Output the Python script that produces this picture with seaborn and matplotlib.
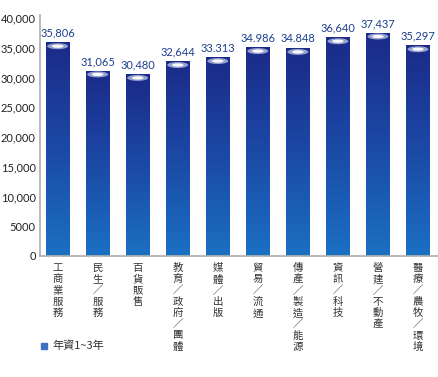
import numpy as np
import pandas as pd
import seaborn as sns
import matplotlib.pyplot as plt
from matplotlib.colors import LinearSegmentedColormap
from matplotlib.patches import Ellipse

# Dados do gráfico
categorias = ["工商業服務", "民生／服務", "百貨販售", "教育／政府／團體", "媒體／出版",
              "貿易／流通", "傳產／製造／能源", "資訊／科技", "營建／不動產", "醫療／農牧／環境"]
salarios = [35806, 31065, 30480, 32644, 33313, 34986, 34848, 36640, 37437, 35297]
rotulos = ["35,806", "31,065", "30,480", "32,644", "33.313",
           "34.986", "34.848", "36,640", "37,437", "35,297"]
ticks_y = [0, 5000, 10000, 15000, 20000, 25000, 30000, 35000, 40000]
ticks_y_txt = ["0", "5000", "10,000", "15,000", "20,000", "25,000", "30,000", "35,000", "40,000"]
legenda = "年資1~3年"

sns.set_theme(style="white")
plt.rcParams['font.family'] = ['Lato', 'DejaVu Sans']
cjk = ['Noto Sans CJK TC', 'DejaVu Sans']

df = pd.DataFrame({"cat": categorias, "val": salarios})

fig = plt.figure(figsize=(4.38, 3.77), dpi=100)
ax = fig.add_axes([40 / 438, 1 - 256 / 377, 398 / 438, (256 - 15) / 377])

sns.barplot(data=df, x="cat", y="val", color="#1f4fa8", width=0.58, ax=ax,
            saturation=1, edgecolor="none")

# Gradiente em cada barra
cmap = LinearSegmentedColormap.from_list("azul", ["#1c2a88", "#1b49a6", "#1a70c2"])
grad = np.linspace(0, 1, 256).reshape(-1, 1)
for p in ax.patches:
    x0, w, h = p.get_x(), p.get_width(), p.get_height()
    p.set_alpha(0)
    ax.imshow(grad, cmap=cmap, aspect="auto", extent=[x0, x0 + w, 0, h],
              origin="upper", zorder=2)
    ax.add_patch(Ellipse((x0 + w / 2, h - 550), w * 0.9, 1000,
                         facecolor="#c8d4ee", alpha=0.7, edgecolor="none", zorder=3))
    ax.add_patch(Ellipse((x0 + w / 2, h - 550), w * 0.5, 550,
                         facecolor="white", alpha=0.95, edgecolor="none", zorder=3))

for i, (v, t) in enumerate(zip(salarios, rotulos)):
    ax.text(i, v + 700, t, ha="center", va="bottom", fontsize=8, color="#1d3f8f")

ax.set_xlim(-0.44, 9.5)
ax.set_ylim(0, 40500)
ax.set_yticks(ticks_y)
ax.set_yticklabels(ticks_y_txt, fontsize=8, color="#222222")
ax.tick_params(axis="y", length=0, pad=3)
ax.tick_params(axis="x", length=0)
ax.set_xticks(range(len(categorias)))
ax.set_xticklabels([])
ax.set_xlabel("")
ax.set_ylabel("")

for i, c in enumerate(categorias):
    ax.text(i, -1200, "\n".join(c), ha="center", va="top", fontsize=7.5,
            family=cjk, color="#333333", linespacing=1.15)

sns.despine(ax=ax)
ax.spines["left"].set_color("#b0b0b0")
ax.spines["bottom"].set_color("#b0b0b0")

# Legenda
fig.patches.append(plt.Rectangle((41 / 438, 1 - 349 / 377), 6 / 438, 6 / 377,
                                 transform=fig.transFigure, color="#3f6fc0", figure=fig))
fig.text(52 / 438, 1 - 346 / 377, legenda, fontsize=8, family=cjk,
         color="#333333", va="center")

fig.savefig("out.png", dpi=100)
